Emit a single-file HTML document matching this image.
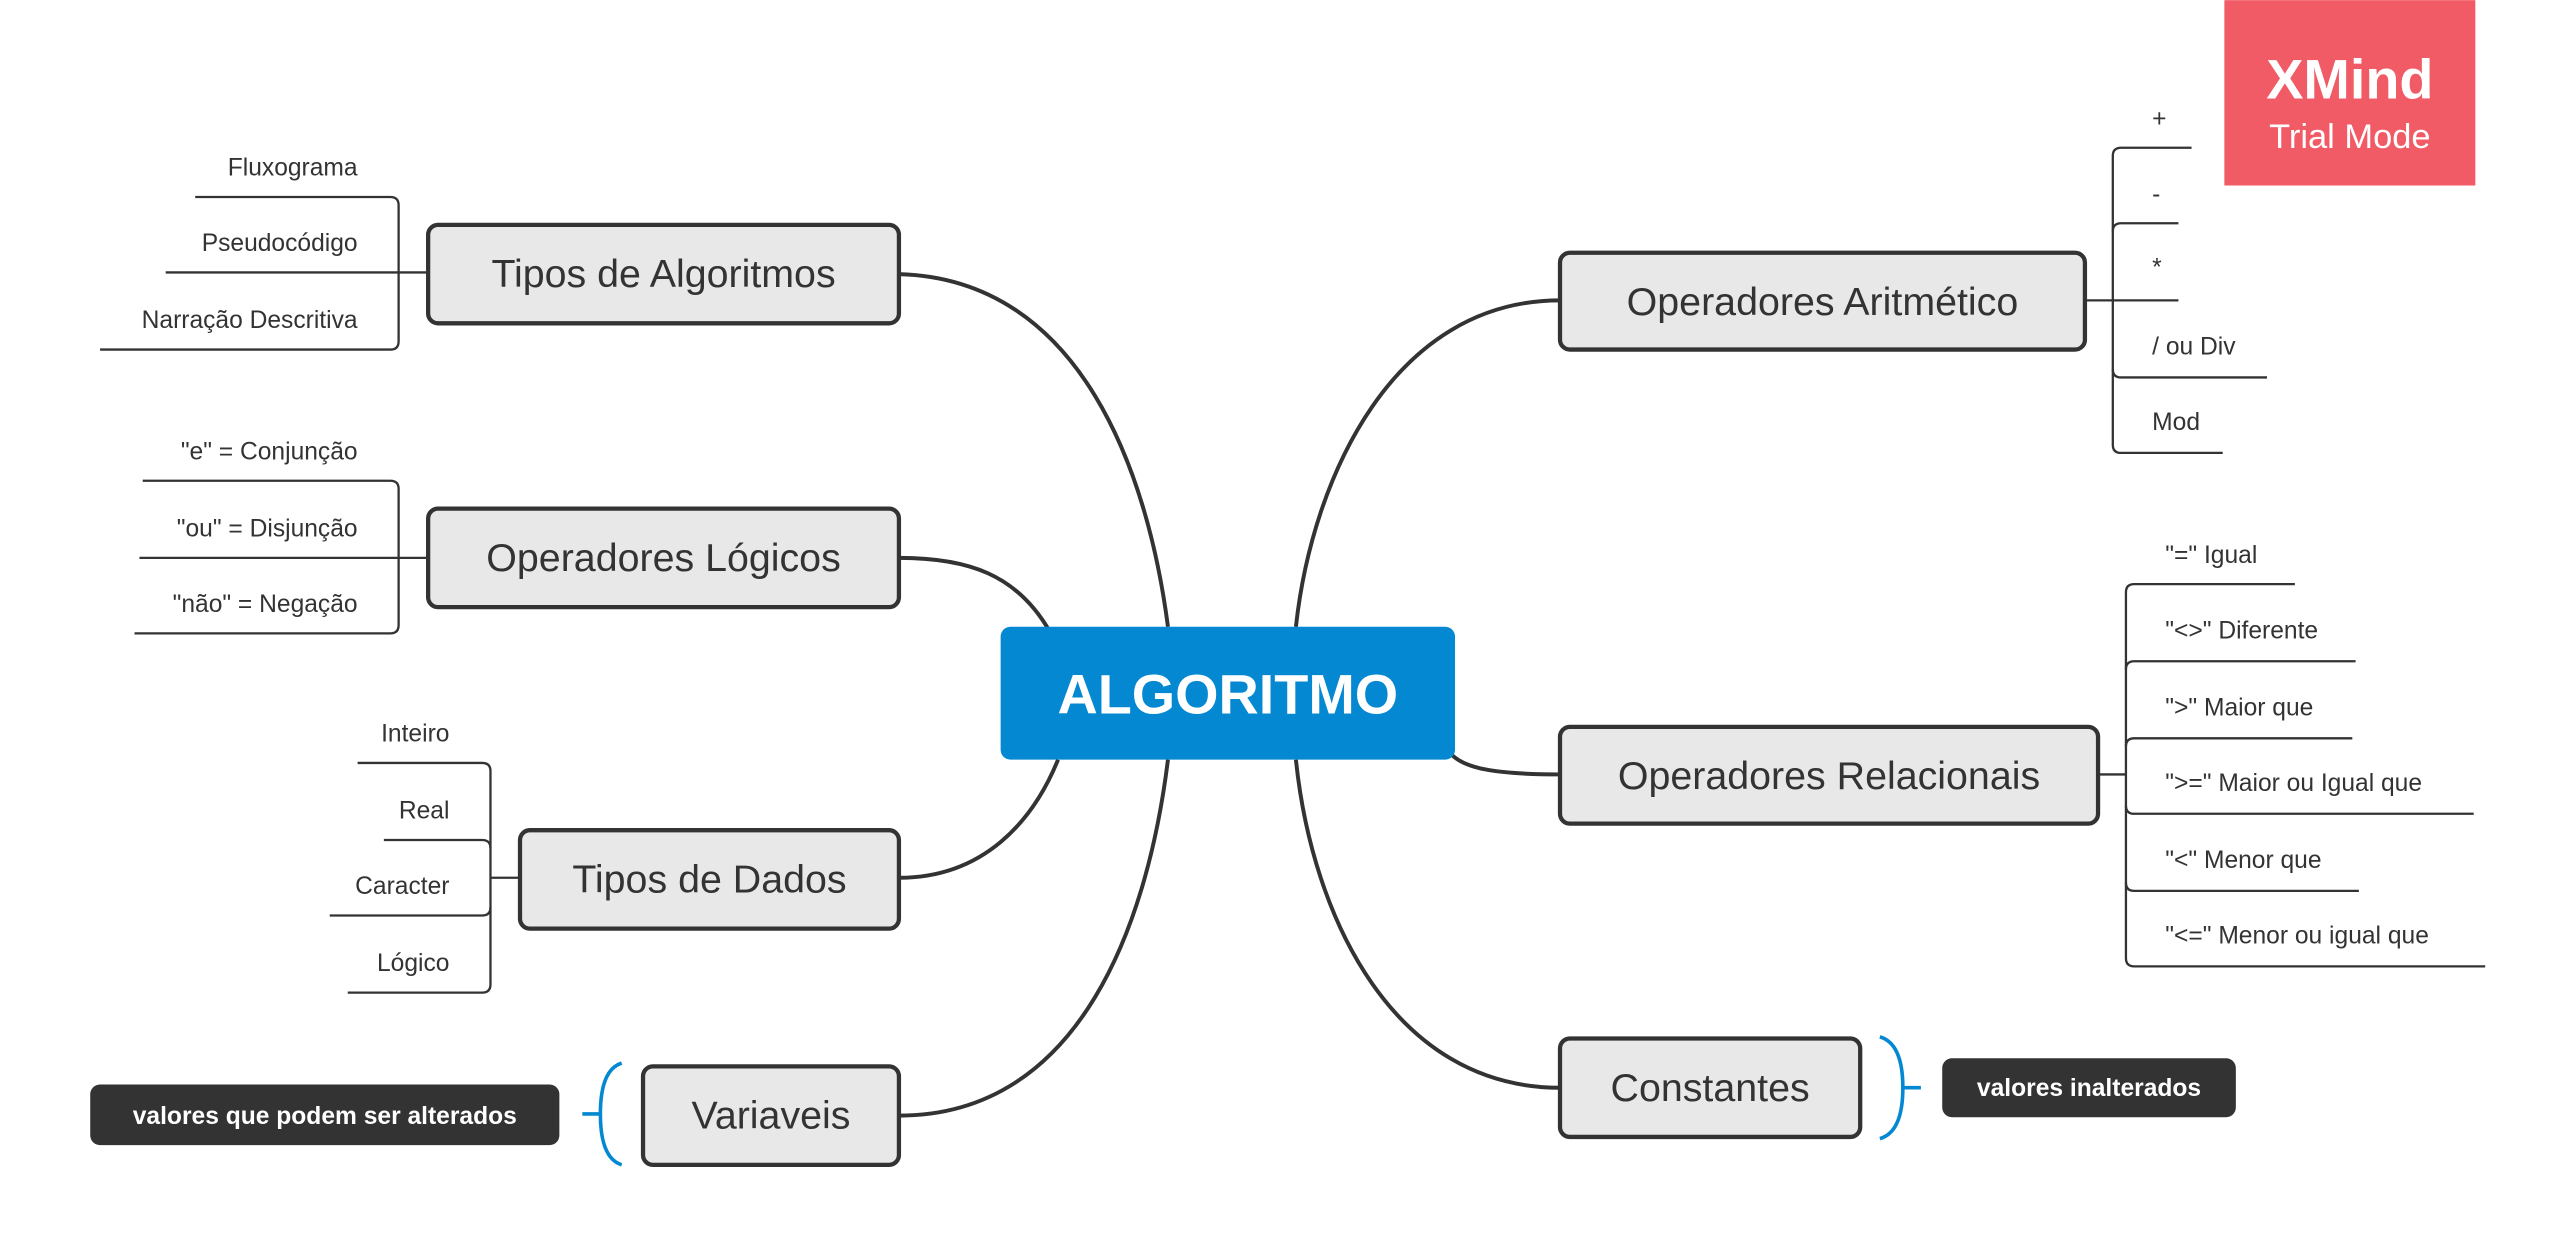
<!DOCTYPE html>
<html><head><meta charset="utf-8"><style>
html,body{margin:0;padding:0;background:#fff;}
svg{display:block;}
text{font-family:"Liberation Sans",sans-serif;}
</style></head><body>
<svg width="2559" height="1247" viewBox="0 0 1560 760" xmlns="http://www.w3.org/2000/svg">
<rect width="1560" height="760" fill="#fff"/>
<g fill="none" stroke="#333" stroke-width="2.4">
<path d="M548,167 C660,170 700,290 712,382"/>
<path d="M548,340 C590,340 620,350 640,385"/>
<path d="M548,535 C600,535 630,500 645,463"/>
<path d="M548,680 C660,680 700,560 712,463"/>
<path d="M951,183 C850,183 800,290 790,382"/>
<path d="M951,472 C910,472 893,468 885,460"/>
<path d="M951,663 C850,663 800,560 790,463"/>
</g>
<rect x="610" y="382" width="277" height="81" rx="6" fill="#0388d1"/>
<text x="748.5" y="435" font-size="34" font-weight="bold" fill="#fff" text-anchor="middle">ALGORITMO</text>
<g fill="#e8e8e8" stroke="#333" stroke-width="2.6">
<rect x="261" y="137" width="287" height="60" rx="6"/>
<rect x="261" y="310" width="287" height="60" rx="6"/>
<rect x="317" y="506" width="231" height="60" rx="6"/>
<rect x="392" y="650" width="156" height="60" rx="6"/>
<rect x="951" y="154" width="320" height="59" rx="6"/>
<rect x="951" y="443" width="328" height="59" rx="6"/>
<rect x="951" y="633" width="183" height="60" rx="6"/>
</g>
<g font-size="24" fill="#333" text-anchor="middle">
<text x="404.5" y="175">Tipos de Algoritmos</text>
<text x="404.5" y="348">Operadores Lógicos</text>
<text x="432.5" y="544">Tipos de Dados</text>
<text x="470" y="688">Variaveis</text>
<text x="1111" y="192">Operadores Aritmético</text>
<text x="1115" y="481">Operadores Relacionais</text>
<text x="1042.5" y="671">Constantes</text>
</g>
<g fill="none" stroke="#333" stroke-width="1.4">
<!-- Tipos de Algoritmos -->
<path d="M119,120 H238 Q243,120 243,125 V208 Q243,213 238,213 H61"/>
<path d="M101,166 H261"/>
<!-- Logicos -->
<path d="M87,293 H238 Q243,293 243,298 V381 Q243,386 238,386 H82"/>
<path d="M85,340 H261"/>
<!-- Dados -->
<path d="M218,465 H294 Q299,465 299,470 V600 Q299,605 294,605 H212"/>
<path d="M234,512 H294 Q299,512 299,517"/>
<path d="M201,558 H294 Q299,558 299,553"/>
<path d="M299,535 H317"/>
<!-- Aritmetico -->
<path d="M1336,90 H1293 Q1288,90 1288,95 V271 Q1288,276 1293,276 H1355"/>
<path d="M1328,136 H1293 Q1288,136 1288,141"/>
<path d="M1271,183 H1328"/>
<path d="M1382,230 H1293 Q1288,230 1288,225"/>
<!-- Relacionais -->
<path d="M1399,356 H1301 Q1296,356 1296,361 V584 Q1296,589 1301,589 H1515"/>
<path d="M1436,403 H1301 Q1296,403 1296,408"/>
<path d="M1434,450 H1301 Q1296,450 1296,455"/>
<path d="M1508,496 H1301 Q1296,496 1296,491"/>
<path d="M1438,543 H1301 Q1296,543 1296,538"/>
<path d="M1279,472 H1296"/>
</g>
<g font-size="15" fill="#333" text-anchor="end">
<text x="218" y="107">Fluxograma</text>
<text x="218" y="153">Pseudocódigo</text>
<text x="218" y="200">Narração Descritiva</text>
<text x="218" y="280">"e" = Conjunção</text>
<text x="218" y="327">"ou" = Disjunção</text>
<text x="218" y="373">"não" = Negação</text>
<text x="274" y="452">Inteiro</text>
<text x="274" y="499">Real</text>
<text x="274" y="545">Caracter</text>
<text x="274" y="592">Lógico</text>
</g>
<g font-size="15" fill="#333">
<text x="1312" y="77">+</text>
<text x="1312" y="123">-</text>
<text x="1312" y="168">*</text>
<text x="1312" y="216">/ ou Div</text>
<text x="1312" y="262">Mod</text>
<text x="1320" y="343">"=" Igual</text>
<text x="1320" y="389">"&lt;&gt;" Diferente</text>
<text x="1320" y="436">"&gt;" Maior que</text>
<text x="1320" y="482">"&gt;=" Maior ou Igual que</text>
<text x="1320" y="529">"&lt;" Menor que</text>
<text x="1320" y="575">"&lt;=" Menor ou igual que</text>
</g>
<g fill="none" stroke="#0388d1" stroke-width="2.2">
<path d="M379,648 Q366,652 366,679 Q366,706 379,710"/>
<path d="M355,679 H366"/>
<path d="M1146,632 Q1160,636 1160,663 Q1160,690 1146,694"/>
<path d="M1160,663 H1171"/>
</g>
<rect x="55" y="661" width="286" height="37" rx="6" fill="#333"/>
<text x="198" y="685" font-size="15" font-weight="bold" fill="#fff" text-anchor="middle">valores que podem ser alterados</text>
<rect x="1184" y="645" width="179" height="36" rx="6" fill="#333"/>
<text x="1273.5" y="668" font-size="15" font-weight="bold" fill="#fff" text-anchor="middle">valores inalterados</text>
<rect x="1356" y="0" width="153" height="113" fill="#f15b66"/>
<text x="1432.5" y="60" font-size="34" font-weight="bold" fill="#fff" text-anchor="middle">XMind</text>
<text x="1432.5" y="90" font-size="21" fill="#fff" text-anchor="middle">Trial Mode</text>
</svg>
</body></html>
